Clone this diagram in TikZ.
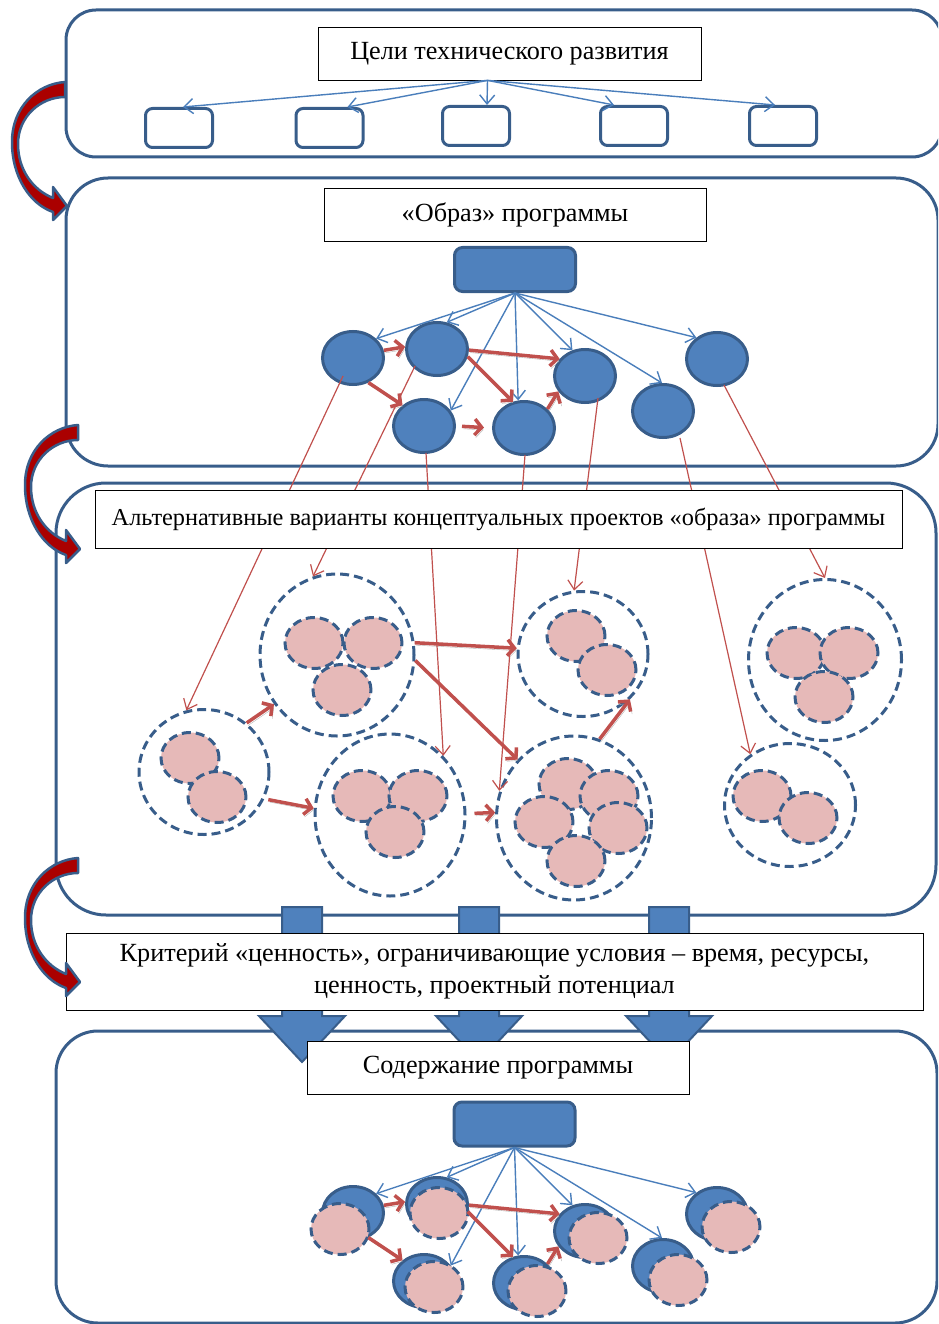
\documentclass[tikz,border=0pt]{standalone}
\usepackage{fontspec}
\setmainfont{Liberation Serif}
\definecolor{panelblue}{RGB}{56, 93, 138}
\definecolor{fillblue}{RGB}{79, 129, 189}
\definecolor{linkblue}{RGB}{74, 126, 187}
\definecolor{linkred}{RGB}{192, 80, 77}
\definecolor{pinkfill}{RGB}{230, 185, 184}
\definecolor{turnred}{RGB}{170, 0, 0}
\usetikzlibrary{arrows.meta, positioning, shapes.geometric, calc}

\begin{document}
\begin{tikzpicture}[x=1pt, y=-1pt,
    panel/.style={draw=panelblue, line width=3pt},
    title/.style={draw=black, line width=0.8pt, fill=white, align=center, inner sep=0pt,
                  font=\fontsize{26.2}{32}\selectfont},
    goalbox/.style={draw=panelblue, line width=3pt, rounded corners=7pt, fill=white,
                    minimum width=67pt, minimum height=39pt, inner sep=0pt},
    hubbox/.style={draw=panelblue, line width=3pt, rounded corners=8pt, fill=fillblue,
                   minimum width=121pt, minimum height=44pt, inner sep=0pt},
    elem/.style={ellipse, draw=panelblue, line width=3pt, fill=fillblue,
                 minimum width=61pt, minimum height=53pt, inner sep=0pt},
    concept/.style={ellipse, draw=panelblue, line width=3pt, fill=pinkfill,
                    dash pattern=on 9pt off 5pt, minimum width=58pt, minimum height=51pt, inner sep=0pt},
    cluster/.style={ellipse, draw=panelblue, line width=3pt, fill=white,
                    dash pattern=on 9pt off 5pt, inner sep=0pt},
    link/.style={draw=linkblue, line width=1.4pt, -{Straight Barb[length=9pt,width=15pt]}},
    trace/.style={draw=linkred, line width=1.2pt, -{Straight Barb[length=9pt,width=15pt]}},
    flow/.style={draw=linkred, line width=3.5pt, -{Straight Barb[length=7pt,width=16pt]},
                 preaction={draw=black!30, transform canvas={shift={(1.5pt,-2.5pt)}}}},
    blockarrow/.style={fill=fillblue, draw=panelblue, line width=2pt},
    turnarrow/.pic={
        \filldraw[fill=turnred, draw=panelblue, line width=2.5pt, line join=round]
            (0,0) .. controls (-28,2) and (-53,25) .. (-53,60)
            .. controls (-53,95) and (-35,122) .. (-12,130)
            -- (-12,138) -- (2,124) -- (-12,105) -- (-12,116)
            .. controls (-32,108) and (-47,88) .. (-47,62)
            .. controls (-47,35) and (-25,15) .. (0,15) -- cycle;
    },
]
    \useasboundingbox (0,0) rectangle (938,1324);
    \clip (0,0) rectangle (938,1324);

    % frames
    \draw[panel, rounded corners=30pt] (66,10) rectangle (942,157);
    \draw[panel, rounded corners=42pt] (66,178) rectangle (938,466);
    \draw[panel, rounded corners=50pt] (56,483) rectangle (936,915);
    \draw[panel, rounded corners=42pt] (56,1031) rectangle (937,1323);

    \foreach \cx in {302, 479, 669}
        \filldraw[blockarrow] (\cx-20,907) -- (\cx+20,907) -- (\cx+20,1016) -- (\cx+43,1016)
            -- (\cx,1062) -- (\cx-43,1016) -- (\cx-20,1016) -- cycle;

    % goals
    \node[goalbox] (g1) at (179,128) {};
    \node[goalbox] (g2) at (329.5,128) {};
    \node[goalbox] (g3) at (476,126) {};
    \node[goalbox] (g4) at (634,126) {};
    \node[goalbox] (g5) at (783,126) {};

    % image of the programme
    \node[hubbox] (hub) at (515,269.5) {};
    \foreach \n/\x/\y in {1/353/358, 2/437/349, 3/424/426, 4/524/428, 5/585/376, 6/663/411, 7/717/359}
        \node[elem] (e\n) at (\x,\y) {};
    \foreach \n/\a in {1/40, 2/70, 3/30, 4/102, 5/116, 6/92, 7/134}
        \draw[link] (hub.south) -- (e\n.\a);
    \draw[flow] (e1.14) -- (e2.176);
    \draw[flow] (e1.-58) -- (e3.136);
    \draw[flow] (e2.-2) -- (e5.146);
    \draw[flow] (e2.-14) -- (e4.113);
    \draw[flow, shorten <=6pt, shorten >=8pt] (e3.east) -- (e4.west);
    \draw[flow] (e4.39) -- (e5.210);

    % alternative concepts
    \node[cluster, minimum width=130pt, minimum height=125pt] (c1) at (204,772) {};
    \node[concept] at (190,758) {};
    \node[concept] at (217,797) {};
    \node[cluster, minimum width=154pt, minimum height=162pt] (c2) at (337,655) {};
    \node[concept] at (314,643) {};
    \node[concept] at (373,643) {};
    \node[concept] at (342,690) {};
    \node[cluster, minimum width=150pt, minimum height=162pt] (c3) at (390,815) {};
    \node[concept] at (362,796) {};
    \node[concept] at (418,796) {};
    \node[concept] at (395,832) {};
    \node[cluster, minimum width=130pt, minimum height=125pt] (c4) at (583,654) {};
    \node[concept] at (576,636) {};
    \node[concept] at (607,670) {};
    \node[cluster, minimum width=155pt, minimum height=164pt] (c5) at (574,818) {};
    \node[concept] at (568,784) {};
    \node[concept] at (609,796) {};
    \node[concept] at (544,822) {};
    \node[concept] at (618,828) {};
    \node[concept] at (576,861) {};
    \node[cluster, minimum width=153pt, minimum height=161pt] (c6) at (825,660) {};
    \node[concept] at (796,653) {};
    \node[concept] at (849,653) {};
    \node[concept] at (824,697) {};
    \node[cluster, minimum width=131pt, minimum height=123pt] (c7) at (790,805) {};
    \node[concept] at (762,796) {};
    \node[concept] at (808,818) {};

    \draw[flow] (c1.49) -- (c2.218);
    \draw[flow, shorten <=4pt] (c1.-24) -- (c3.175);
    \draw[flow] (c2.9) -- (c4.175);
    \draw[flow] (c2.-4) -- (c5.134);
    \draw[flow, shorten <=8pt] (c3.1) -- (c5.176);
    \draw[flow] (c5.72) -- (c4.-44);

    \draw[trace] ($(e1)+(-10,18)$) -- (c1.106);
    \draw[trace] ($(e2)+(-22,17)$) -- (c2.107);
    \draw[trace] ($(e3)+(2,27)$) -- (c3.48);
    \draw[trace] ($(e4)+(1,27)$) -- (c5.160);
    \draw[trace] ($(e5)+(13,22)$) -- (c4.98);
    \draw[trace] ($(e6)+(17,27)$) -- (c7.128);
    \draw[trace] ($(e7)+(7,26)$) -- (c6.90);

    % programme content
    \node[hubbox] (hub2) at (514.5,1124) {};
    \foreach \n/\x/\y/\dx/\dy in {1/353/358/-13/16, 2/437/349/2/9, 3/424/426/10/6, 4/524/428/13/8,
                                  5/585/376/13/7, 6/663/411/15/14, 7/717/359/14/13} {
        \node[elem] (s\n) at (\x,\y+855) {};
        \node[concept] (p\n) at (\x+\dx,\y+855+\dy) {};
    }
    \foreach \n/\a in {1/40, 2/70, 3/30, 4/102, 5/116, 6/92, 7/134}
        \draw[link] (hub2.south) -- (s\n.\a);
    \draw[flow] (s1.14) -- (s2.176);
    \draw[flow] (s1.-58) -- (s3.136);
    \draw[flow] (s2.-2) -- (s5.146);
    \draw[flow] (s2.-14) -- (s4.113);
    \draw[flow] (s4.39) -- (s5.210);

    % titles
    \node[title, minimum width=383pt, minimum height=53pt] (goals) at (509.5,53.5) {Цели технического развития};
    \foreach \n/\d in {1/4, 2/18, 3/11, 4/-20, 5/-8}
        \draw[link] ([xshift=-22pt]goals.south) -- ([xshift=\d pt]g\n.north);
    \node[title, minimum width=382pt, minimum height=53pt] (image) at (515,214.5) {«Образ» программы};
    \node[title, minimum width=807pt, minimum height=58pt, font=\fontsize{24.3}{30}\selectfont] (alts) at (498.5,519) {Альтернативные варианты концептуальных проектов «образа» программы};
    \node[title, minimum width=857pt, minimum height=77pt] (crit) at (494.5,971.5) {Критерий «ценность», ограничивающие условия – время, ресурсы,\\ ценность, проектный потенциал};
    \node[title, minimum width=382pt, minimum height=53pt] (content) at (498,1067.5) {Содержание программы};

    \pic at (65,82) {turnarrow};
    \pic at (78,425) {turnarrow};
    \pic at (78,858) {turnarrow};
\end{tikzpicture}
\end{document}
